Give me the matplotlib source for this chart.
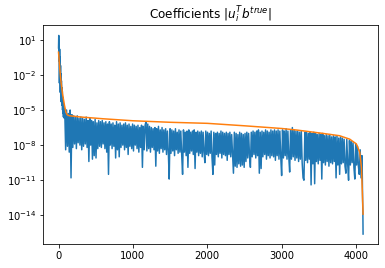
import numpy as np
import matplotlib
matplotlib.use("Agg")
import matplotlib.pyplot as plt
from matplotlib.ticker import NullLocator

# log10 of |u_i^T b_true|
head_idx = [0, 3, 6, 9, 12, 15, 18, 21, 24, 27, 30, 33, 36, 39, 42, 45, 48, 51,
            54, 57, 60, 63, 66, 69, 72, 75, 78, 81]
head_val = [0.3, 1.37, -0.8, 1.0, -2.7, 0.2, -1.8, -0.5, -3.5, -1.2, -4.0, -1.9,
            -4.3, -2.5, -3.8, -3.1, -4.6, -3.4, -5.0, -3.9, -5.3, -4.3, -5.6, -4.6,
            -5.4, -4.9, -5.7, -5.2]

body_idx = np.arange(84, 4081, 12)
body_val = [
    -5.2, -8.4, -5.0, -8.1, -5.3, -8.6, -5.0, -10.8, -5.4, -8.2,
    -5.5, -7.9, -5.6, -8.3, -5.5, -7.8, -5.7, -8.0, -5.6, -8.4,
    -5.7, -8.1, -5.8, -7.9, -5.6, -8.2, -5.9, -9.4, -5.7, -8.0,
    -5.9, -9.2, -6.0, -8.9, -5.8, -9.1, -6.1, -8.3, -5.9, -8.1,
    -6.0, -8.2, -5.9, -7.9, -6.1, -8.3, -6.0, -8.6, -6.2, -10.5,
    -6.0, -8.0, -6.2, -8.3, -6.1, -8.1, -6.3, -9.1, -6.0, -8.4,
    -6.2, -9.0, -6.1, -8.2, -6.3, -8.0, -6.2, -8.4, -6.1, -8.2,
    -6.3, -8.8, -6.2, -8.1, -6.4, -8.3, -6.2, -8.5, -6.3, -8.0,
    -6.4, -8.3, -6.3, -8.6, -6.5, -8.2, -6.3, -9.9, -6.4, -8.4,
    -6.3, -6.0, -8.5, -6.2, -8.3, -6.4, -8.6, -6.5, -8.2, -6.6,
    -8.4, -6.5, -9.8, -6.6, -8.5, -6.4, -8.7, -6.7, -8.3, -6.5,
    -8.6, -6.7, -8.4, -6.6, -8.8, -6.8, -8.5, -10.9, -6.6, -8.7,
    -6.7, -8.5, -6.8, -8.9, -6.6, -8.4, -6.9, -8.7, -6.7, -8.6,
    -6.8, -8.8, -10.5, -6.7, -8.6, -6.9, -8.9, -6.8, -9.9, -6.7,
    -8.7, -6.9, -8.5, -6.8, -8.8, -6.7, -10.0, -6.9, -8.6, -6.8,
    -8.9, -6.9, -8.7, -6.8, -9.0, -6.9, -8.6, -9.5, -6.8, -8.8,
    -6.9, -8.9, -7.0, -8.7, -6.8, -9.1, -10.5, -6.9, -9.7, -7.0,
    -8.8, -6.9, -9.0, -7.0, -8.7, -6.8, -9.1, -6.9, -8.8, -7.0,
    -8.9, -6.9, -9.3, -7.0, -8.8, -6.9, -9.0, -7.1, -8.7, -10.4,
    -6.9, -9.8, -7.0, -9.9, -7.1, -9.6, -6.9, -9.8, -7.0, -9.7,
    -7.1, -9.9, -7.0, -9.4, -6.9, -9.1, -7.0, -8.9, -9.9, -6.9,
    -9.0, -6.8, -8.8, -6.9, -9.1, -6.8, -8.9, -6.7, -10.4, -6.9,
    -10.0, -6.8, -9.0, -6.9, -8.8, -6.7, -9.2, -6.8, -8.9, -6.9,
    -9.1, -6.7, -8.9, -6.8, -9.0, -6.7, -9.3, -6.8, -8.9, -6.7,
    -9.2, -6.8, -9.0, -10.6, -6.7, -9.1, -6.8, -8.9, -6.6, -9.2,
    -6.8, -9.0, -10.3, -6.7, -9.2, -6.5, -9.0, -6.7, -9.3, -6.8,
    -9.1, -6.8, -9.4, -6.9, -9.2, -6.8, -9.5, -10.8, -11.0, -6.9,
    -9.3, -6.9, -9.5, -7.0, -9.2, -6.9, -11.4, -7.0, -9.6, -6.9,
    -11.3, -7.0, -9.4, -7.1, -9.6, -7.0, -9.3, -7.1, -10.9, -7.0,
    -9.5, -7.2, -9.7, -7.1, -9.4, -7.2, -9.8, -7.1, -9.5, -7.3,
    -9.6, -7.2, -9.4, -7.3, -10.8, -7.2, -9.7, -7.4, -10.5, -7.3,
    -9.6, -7.4, -9.5, -7.5, -9.8, -10.4, -7.5, -9.6, -11.0, -7.6,
    -9.7, -7.7, -9.5, -7.8, -9.9, -10.9, -7.9, -9.7, -8.1, -9.8,
    -10.5, -8.4, -10.8, -8.9,
]

tail_idx = [4083, 4086, 4089, 4092, 4095]
tail_val = [-9.8, -11.5, -12.8, -13.6, -15.6]

# log10 of the orange reference curve
sv_idx = [0, 10, 19, 30, 54, 80, 100, 115, 144, 300, 600, 1000, 1500, 2000,
          2500, 3000, 3200, 3556, 3780, 3915, 4005, 4050, 4073, 4081, 4088, 4095]
sv_val = [-0.06, -0.9, -1.63, -2.4, -3.63, -4.6, -5.2, -5.4, -5.49, -5.6, -5.75,
          -5.92, -6.05, -6.14, -6.35, -6.58, -6.71, -7.0, -7.2, -7.49, -7.9,
          -8.6, -9.9, -11.2, -12.5, -13.9]

coef_x = np.concatenate([head_idx, body_idx, tail_idx])
coef_y = 10.0 ** np.concatenate([head_val, body_val, tail_val])

fig = plt.figure(figsize=(385 / 72, 268 / 72), dpi=72)
ax = fig.add_axes([43.3 / 385, 24 / 268, 335 / 385, 218.5 / 268])

ax.semilogy(coef_x, coef_y)
ax.semilogy(sv_idx, 10.0 ** np.array(sv_val))

ax.set_yticks([1e1, 1e-2, 1e-5, 1e-8, 1e-11, 1e-14])
ax.yaxis.set_minor_locator(NullLocator())
ax.set_xticks([0, 1000, 2000, 3000, 4000])
ax.set_title(r"Coefficients $|u_i^T b^{true}|$", fontsize=12)

fig.savefig("out.png", dpi=72)
